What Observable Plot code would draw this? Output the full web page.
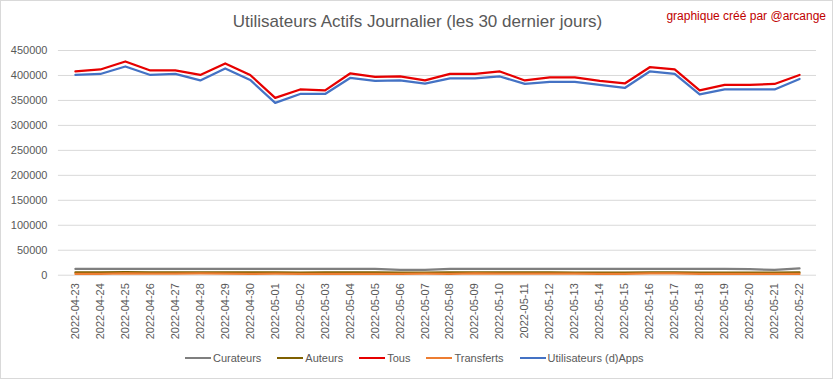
<!DOCTYPE html>
<html>
<head>
<meta charset="utf-8">
<script src="https://cdn.jsdelivr.net/npm/d3@7"></script>
<script src="https://cdn.jsdelivr.net/npm/@observablehq/plot@0.6"></script>
<style>
  html, body { margin: 0; padding: 0; background: #fff; }
  #wrap { position: relative; width: 833px; height: 379px; box-sizing: border-box; border: 1px solid #d9d9d9; background: #fff; overflow: hidden; font-family: "Liberation Sans", Arial, sans-serif; }
  #title { position: absolute; left: 0; width: 833px; top: 11px; text-align: center; font-size: 17px; color: #595959; white-space: nowrap; }
  #credit { position: absolute; right: 6px; top: 8px; font-size: 12px; color: #c00000; white-space: nowrap; }
  #chart { position: absolute; left: -1px; top: 39px; }
  #legend { position: absolute; left: 184px; top: 351px; display: flex; align-items: center; font-size: 11px; color: #595959; white-space: nowrap; }
  .item { display: flex; align-items: center; margin-right: 16px; }
  .sw { width: 26px; height: 0; border-top: 2.5px solid; margin-right: 2px; }
</style>
</head>
<body>
<div id="wrap">
  <div id="title">Utilisateurs Actifs Journalier (les 30 dernier jours)</div>
  <div id="credit">graphique créé par @arcange</div>
  <div id="chart"></div>
  <div id="legend"></div>
</div>
<script>
const dates = [
  "2022-04-23","2022-04-24","2022-04-25","2022-04-26","2022-04-27","2022-04-28","2022-04-29","2022-04-30",
  "2022-05-01","2022-05-02","2022-05-03","2022-05-04","2022-05-05","2022-05-06","2022-05-07","2022-05-08",
  "2022-05-09","2022-05-10","2022-05-11","2022-05-12","2022-05-13","2022-05-14","2022-05-15","2022-05-16",
  "2022-05-17","2022-05-18","2022-05-19","2022-05-20","2022-05-21","2022-05-22"
];
const curateurs = [12500,12500,12500,12500,12500,12500,12500,12500,12500,12500,12500,12500,12500,10500,10500,12500,12500,12500,12500,12500,12500,12500,12500,12500,12500,12500,12500,12000,10500,13500];
const auteurs   = [5500,5500,6000,5500,5500,5500,5500,5500,5500,5000,5500,5500,5500,5000,5000,5500,5500,5500,5500,5500,5000,5000,5000,5500,5500,5000,5000,5000,5000,5500];
const tous      = [408000,412000,428000,410000,410000,401000,424000,401000,355000,372000,370000,404000,397000,398000,390000,403000,403000,408000,390000,396000,396000,389000,384000,416500,412000,370000,381000,381000,383000,401000];
const transferts= [2500,2500,3500,3000,3000,3500,3000,2500,3000,2500,2500,2500,2500,2500,3000,2500,3500,3000,3000,3000,3000,2500,2500,3500,3500,2500,2500,2500,2500,2500];
const dapps     = [401000,403000,418000,401000,403000,390000,414000,391000,345000,363000,363000,395000,389000,390000,383500,394000,394000,398000,383000,387000,387000,381000,375000,408000,403000,362000,372000,372000,372000,393000];

const seriesNames = ["Curateurs","Auteurs","Tous","Transferts","Utilisateurs (d)Apps"];
const seriesValues = [curateurs, auteurs, tous, transferts, dapps];
const seriesColors = ["#7f7f7f","#7f6000","#e60000","#ed7d31","#4472c4"];
const yTicks = [0,50000,100000,150000,200000,250000,300000,350000,400000,450000];

const rows = [];
seriesNames.forEach((name, s) => {
  dates.forEach((d, i) => rows.push({date: d, value: seriesValues[s][i], series: name}));
});

const chart = Plot.plot({
  width: 833,
  height: 310,
  marginTop: 10,
  marginBottom: 75,
  marginLeft: 58,
  marginRight: 16,
  style: {fontFamily: '"Liberation Sans", Arial, sans-serif', background: "transparent"},
  x: {type: "point", domain: dates, padding: 0.5, label: null},
  y: {domain: [0, 450000], label: null},
  color: {domain: seriesNames, range: seriesColors},
  marks: [
    Plot.gridY(yTicks, {stroke: "#d9d9d9", strokeOpacity: 1, strokeWidth: 1}),
    Plot.axisY({ticks: yTicks, tickSize: 0, tickPadding: 11, tickFormat: d => String(d), fontSize: 11, fill: "#595959", label: null}),
    Plot.axisX({tickRotate: -90, tickSize: 0, tickPadding: 8, fontSize: 11, fill: "#595959", label: null}),
    ...seriesNames.map((name, s) =>
      Plot.lineY(rows.filter(r => r.series === name), {x: "date", y: "value", stroke: seriesColors[s], strokeWidth: 2.25, strokeLinejoin: "round"})
    )
  ]
});
document.getElementById("chart").appendChild(chart);

const legend = document.getElementById("legend");
seriesNames.forEach((name, s) => {
  const item = document.createElement("div");
  item.className = "item";
  const sw = document.createElement("div");
  sw.className = "sw";
  sw.style.borderTopColor = seriesColors[s];
  const tx = document.createElement("span");
  tx.textContent = name;
  item.appendChild(sw);
  item.appendChild(tx);
  legend.appendChild(item);
});
</script>
</body>
</html>
